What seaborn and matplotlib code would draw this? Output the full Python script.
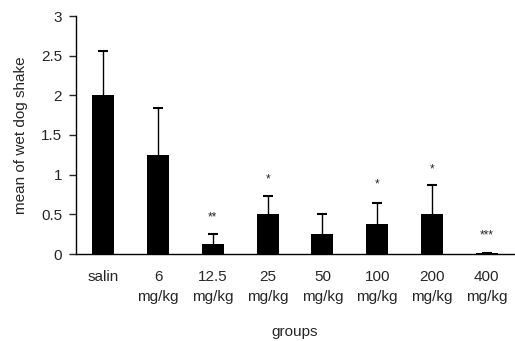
import numpy as np
import pandas as pd
import matplotlib
matplotlib.use("Agg")
import matplotlib.pyplot as plt
import seaborn as sns

# Wet dog shake per group (mean, upper error)
groups = ['salin', '6\nmg/kg', '12.5\nmg/kg', '25\nmg/kg', '50\nmg/kg',
          '100\nmg/kg', '200\nmg/kg', '400\nmg/kg']
means = [2.0, 1.25, 0.125, 0.5, 0.25, 0.375, 0.5, 0.01]
errors = [0.56, 0.59, 0.125, 0.23, 0.25, 0.265, 0.37, 0.0]
stars = ['', '', '**', '*', '', '*', '*', '***']
star_y = [0, 0, 0.46, 0.94, 0, 0.88, 1.06, 0.23]

df = pd.DataFrame({'group': groups, 'mean': means})

sns.set_style("white")
plt.rcParams['font.family'] = ['Liberation Sans', 'DejaVu Sans']

fig = plt.figure(figsize=(5.15, 3.41), dpi=100)
ax = fig.add_axes([76 / 515, 1 - 254 / 341, 438 / 515, 238 / 341])

sns.barplot(data=df, x='group', y='mean', color='black', width=0.4,
            saturation=1, ax=ax, errorbar=None, linewidth=0)

x = np.arange(len(groups))
_, caps, _ = ax.errorbar(x, means, yerr=[np.zeros(len(errors)), errors],
                         fmt='none', ecolor='black', elinewidth=1,
                         capsize=3.5, capthick=1.5)
caps[0].set_visible(False)

for xi, s, yy in zip(x, stars, star_y):
    if s:
        ax.text(xi, yy, s, ha='center', va='center', fontsize=8.5)

ax.set_xlim(-0.5, len(groups) - 0.5)
ax.set_ylim(0, 3)
ax.set_yticks([0, 0.5, 1, 1.5, 2, 2.5, 3])
ax.set_yticklabels(['0', '0.5', '1', '1.5', '2', '2.5', '3'])
for s in ['top', 'right']:
    ax.spines[s].set_visible(False)
for s in ['left', 'bottom']:
    ax.spines[s].set_color('black')
    ax.spines[s].set_linewidth(1)
ax.tick_params(axis='y', left=True, length=5, width=1, labelsize=11, pad=5)
ax.tick_params(axis='x', bottom=False, labelsize=11, pad=8)
for lab in ax.get_xticklabels():
    lab.set_linespacing(1.55)
ax.set_xlabel('groups', fontsize=11, labelpad=15)
ax.set_ylabel('mean of wet dog shake', fontsize=11, labelpad=9)

fig.savefig('out.png', dpi=100)
